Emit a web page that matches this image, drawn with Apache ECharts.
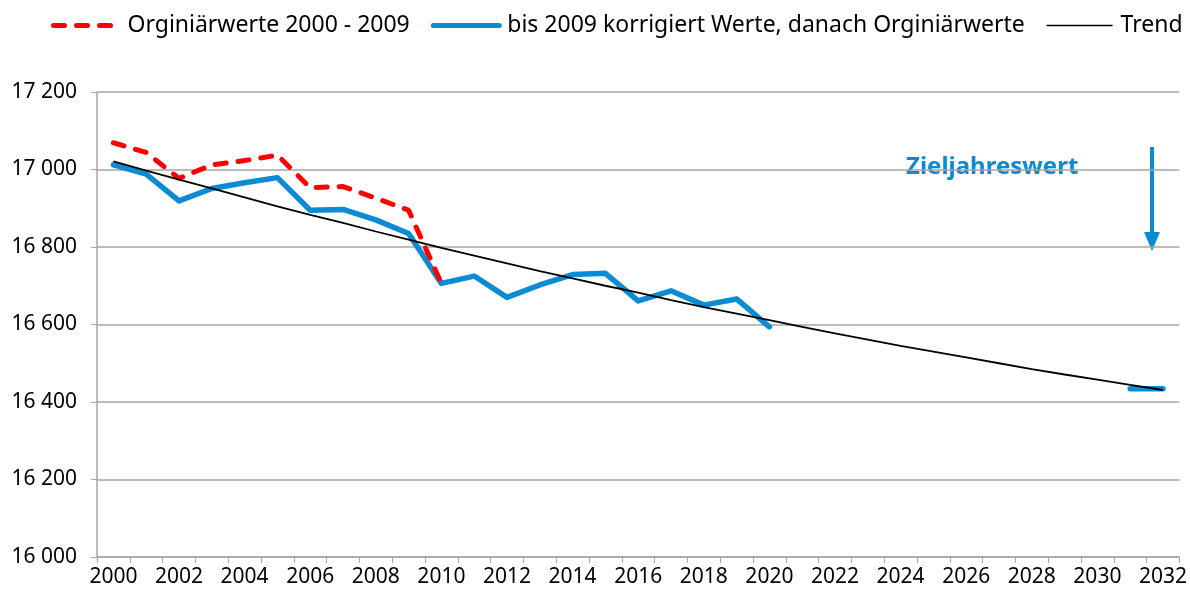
<!DOCTYPE html>
<html>
<head>
<meta charset="utf-8">
<script src="https://cdn.jsdelivr.net/npm/echarts@6/dist/echarts.min.js"></script>
<style>
  html, body { margin: 0; padding: 0; background: #fff; }
  #chart { width: 1190px; height: 597px; }
</style>
</head>
<body>
<div id="chart"></div>
<script>
var years = [];
for (var y = 2000; y <= 2032; y++) years.push(String(y));

// Orginiärwerte 2000 - 2009 (bis 2010 verbunden)
var original = [17069, 17044, 16977, 17012, 17023, 17037, 16953, 16956, 16926, 16895, 16706];

// bis 2009 korrigiert, danach Originalwerte; 2031/2032 = Zieljahreswert
var corrected = [17012, 16988, 16919, 16951, 16966, 16979, 16895, 16897, 16870, 16835,
                 16706, 16725, 16670, 16702, 16729, 16732, 16661, 16687, 16650, 16666, 16594,
                 null, null, null, null, null, null, null, null, null, null,
                 16434, 16434];

var trend = [17021, 16997, 16974, 16951, 16928, 16905, 16883, 16862, 16840, 16819,
             16798, 16778, 16758, 16738, 16719, 16700, 16682, 16663, 16645, 16628,
             16611, 16594, 16577, 16561, 16545, 16530, 16515, 16500, 16485, 16471,
             16458, 16444, 16431];

var yTicks = { min: 16000, max: 17200, step: 200 };

var fontName = "'Noto Sans', sans-serif";
var blue = '#0b8bd3';
var nameOrig = 'Orginiärwerte 2000 - 2009';
var nameCorr = 'bis 2009 korrigiert Werte, danach Orginiärwerte';

var chart = echarts.init(document.getElementById('chart'));
var option = {
    animation: false,
    textStyle: { fontFamily: fontName },
    legend: {
        top: 14,
        left: 51,
        width: 1139,
        padding: 0,
        itemWidth: 66,
        itemHeight: 10,
        itemGap: 21,
        textStyle: { fontSize: 23, color: '#000', fontFamily: fontName, padding: [0, 0, 0, 3] },
        itemStyle: { opacity: 0 },
        data: [
            { name: nameOrig, lineStyle: { width: 5 } },
            { name: nameCorr, lineStyle: { width: 5 } },
            { name: 'Trend', lineStyle: { width: 1.5 } }
        ]
    },
    grid: { left: 97, right: 10, top: 92, bottom: 40 },
    xAxis: {
        type: 'category',
        data: years,
        boundaryGap: true,
        axisLine: { lineStyle: { color: '#a6a6a6', width: 1.5 } },
        axisTick: { show: true, interval: 0, alignWithLabel: false, length: 6, lineStyle: { color: '#a6a6a6' } },
        axisLabel: { interval: 1, color: '#000', fontSize: 21, margin: 10, fontFamily: fontName },
        splitLine: { show: false }
    },
    yAxis: {
        type: 'value',
        min: yTicks.min,
        max: yTicks.max,
        interval: yTicks.step,
        axisLine: { show: true, lineStyle: { color: '#a6a6a6', width: 1.5 } },
        axisTick: { show: true, length: 6, lineStyle: { color: '#a6a6a6' } },
        axisLabel: {
            color: '#000', fontSize: 21, margin: 20, fontFamily: fontName,
            formatter: function (v) {
                var s = String(v);
                return s.slice(0, s.length - 3) + ' ' + s.slice(-3);
            }
        },
        splitLine: { lineStyle: { color: '#a6a6a6', width: 1.5 } }
    },
    series: [
        {
            name: nameOrig,
            type: 'line',
            data: original,
            symbol: 'none',
            z: 3,
            lineStyle: { color: '#ff0000', width: 5, type: [11, 12], cap: 'round' },
            itemStyle: { color: '#ff0000' }
        },
        {
            name: nameCorr,
            type: 'line',
            data: corrected,
            symbol: 'none',
            connectNulls: false,
            z: 2,
            lineStyle: { color: blue, width: 5.5, cap: 'round', join: 'round' },
            itemStyle: { color: blue }
        },
        {
            name: 'Trend',
            type: 'line',
            data: trend,
            symbol: 'none',
            z: 4,
            lineStyle: { color: '#000', width: 1.8 },
            itemStyle: { color: '#000' }
        }
    ],
    graphic: [
        {
            type: 'text',
            left: 906,
            top: 155,
            style: { text: 'Zieljahreswert', fill: blue, font: "bold 24px 'Noto Sans', sans-serif" }
        },
        {
            type: 'line',
            shape: { x1: 1152, y1: 147, x2: 1152, y2: 234 },
            style: { stroke: blue, lineWidth: 4 }
        },
        {
            type: 'polygon',
            shape: { points: [[1144, 232], [1160, 232], [1152, 251]] },
            style: { fill: blue }
        }
    ]
};
chart.setOption(option);
window.onresize = chart.resize;
</script>
</body>
</html>
